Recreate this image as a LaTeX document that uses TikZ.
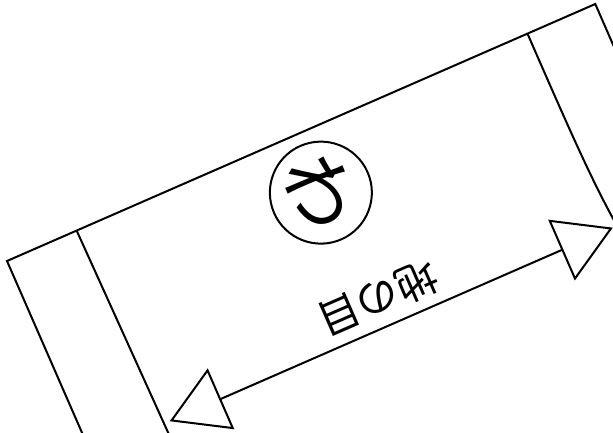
\documentclass[tikz,border=0pt]{standalone}
\usepackage{fontspec}
\newfontfamily\jpfont{Noto Sans CJK JP}
\usetikzlibrary{arrows.meta}
\pgfdeclarelayer{edgelayer}
\pgfdeclarelayer{nodelayer}
\pgfsetlayers{edgelayer,nodelayer,main}
\tikzstyle{cloth}=[draw=black,line width=2pt]
\tikzstyle{fold}=[circle,draw=black,line width=2pt,minimum size=102pt,inner sep=0pt,rotate=-90,font=\jpfont\fontsize{74}{74}\selectfont]
\tikzstyle{grainlabel}=[inner sep=0pt,rotate=180,font=\jpfont\fontsize{42}{42}\selectfont]
\tikzstyle{grain}=[{Triangle[open,length=56pt,width=66pt]}-{Triangle[open,length=56pt,width=66pt]},draw=black,line width=2pt]

\begin{document}
\begin{tikzpicture}[x=10pt,y=10pt]
	\useasboundingbox (0, 0) rectangle (61.3, 43.2);
	\begin{scope}[shift={(0.7, 17.1)}, rotate=23.6, transform shape]
	\begin{pgfonlayer}{nodelayer}
		\node [style=fold] (0) at (31.5, -6.3) {わ};
		\node [style=grainlabel] (1) at (32.5, -18.3) {地の目};
		\coordinate (2) at (8.5, -21.2);
		\coordinate (3) at (56.85, -21.2);
	\end{pgfonlayer}
	\begin{pgfonlayer}{edgelayer}
		\draw [style=cloth] (0, 0) rectangle (64.2, -45);
		\draw [style=cloth] (7.6, 0) -- (8.2, -45);
		\draw [style=cloth] (56.8, 0) .. controls (56.8, -22.5) .. (62, -45);
		\draw [style=grain] (2) to (3);
	\end{pgfonlayer}
	\end{scope}
\end{tikzpicture}
\end{document}
